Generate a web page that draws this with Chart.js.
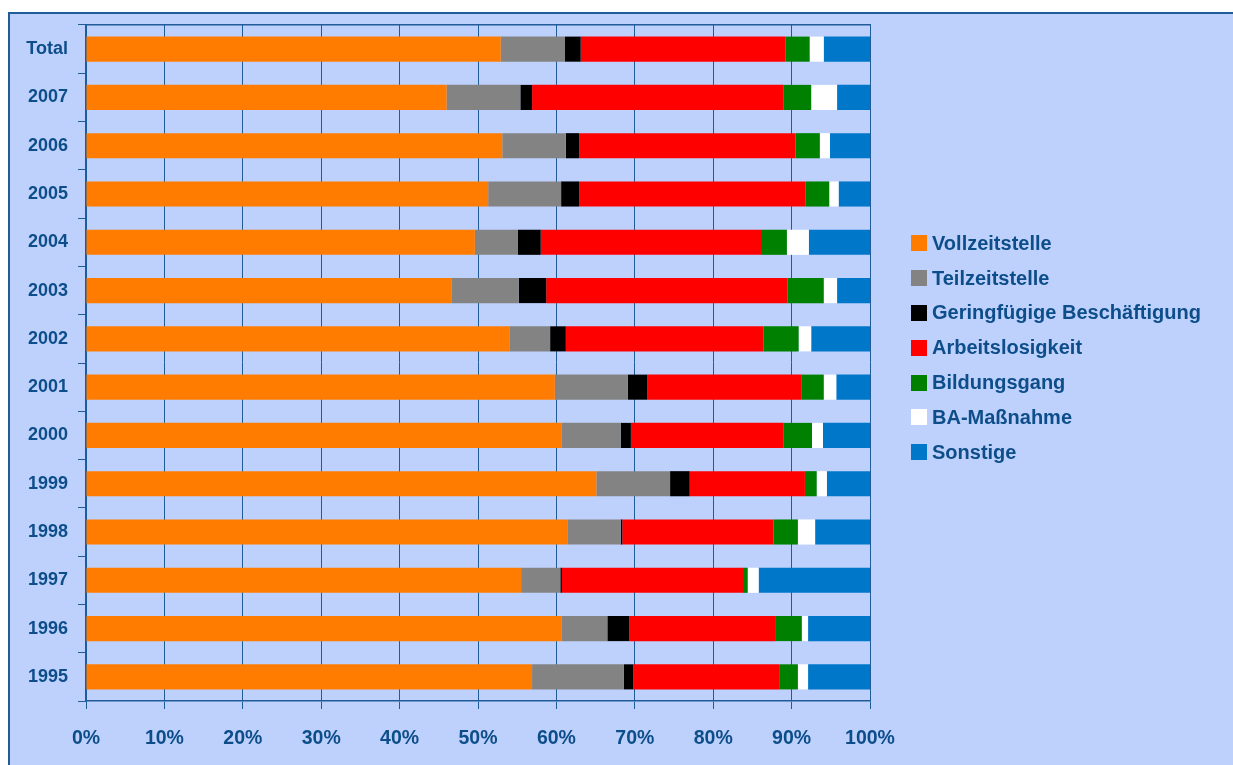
<!DOCTYPE html>
<html lang="de">
<head>
<meta charset="utf-8">
<title>Verbleib nach Jahrgang</title>
<script src="https://cdn.jsdelivr.net/npm/chart.js@4/dist/chart.umd.min.js"></script>
<style>
  html, body { margin: 0; padding: 0; background: #ffffff; }
  body { width: 1233px; height: 765px; position: relative; overflow: hidden;
         font-family: "Liberation Sans", Arial, sans-serif; }
  #panel { position: absolute; left: 8px; top: 12px; right: 0; bottom: 0;
           background: #bed1fc; border-top: 2px solid #1f5c99; border-left: 2px solid #1f5c99; }
  #chart { position: absolute; left: 0; top: 0; }
  #legend { position: absolute; left: 911px; top: 226px; }
  .item { height: 34.8px; display: flex; align-items: center; font-weight: bold;
          font-size: 20px; color: #0d4e8a; white-space: nowrap; }
  .item i { display: inline-block; width: 16px; height: 16px; margin-right: 5px; }
</style>
</head>
<body>
<div id="panel"></div>
<canvas id="chart" width="1233" height="765"></canvas>
<div id="legend"></div>
<script>
// categories, top to bottom
var years = ['Total', '2007', '2006', '2005', '2004', '2003', '2002', '2001', '2000', '1999', '1998', '1997', '1996', '1995'];

// shares in percent per category
var vollzeit     = [52.9, 46.0, 53.1, 51.3, 49.6, 46.6, 54.0, 59.8, 60.7, 65.1, 61.4, 55.5, 60.7, 56.9];
var teilzeit     = [ 8.2,  9.4,  8.1,  9.3,  5.5,  8.6,  5.2,  9.3,  7.5,  9.4,  6.8,  5.0,  5.8, 11.7];
var geringfuegig = [ 2.0,  1.5,  1.7,  2.3,  2.9,  3.5,  2.0,  2.5,  1.3,  2.5,  0.2,  0.2,  2.8,  1.2];
var arbeitslos   = [26.1, 32.1, 27.6, 28.9, 28.1, 30.8, 25.2, 19.7, 19.5, 14.7, 19.3, 23.1, 18.7, 18.7];
var bildung      = [ 3.1,  3.5,  3.1,  3.0,  3.3,  4.6,  4.5,  2.8,  3.6,  1.5,  3.1,  0.6,  3.3,  2.3];
var baMassnahme  = [ 1.8,  3.3,  1.3,  1.2,  2.8,  1.7,  1.6,  1.6,  1.4,  1.3,  2.2,  1.4,  0.8,  1.3];
var sonstige     = [ 5.9,  4.2,  5.1,  4.0,  7.8,  4.2,  7.5,  4.3,  6.0,  5.5,  7.0, 14.2,  7.9,  7.9];

var xTicks = [0, 10, 20, 30, 40, 50, 60, 70, 80, 90, 100];

var seriesNames = ['Vollzeitstelle', 'Teilzeitstelle', 'Geringfügige Beschäftigung', 'Arbeitslosigkeit', 'Bildungsgang', 'BA-Maßnahme', 'Sonstige'];
var seriesData = [vollzeit, teilzeit, geringfuegig, arbeitslos, bildung, baMassnahme, sonstige];
var seriesColors = ['#ff7c00', '#838383', '#000000', '#ff0000', '#008000', '#ffffff', '#0077c8'];

var textColor = '#0d4e8a';
var lineColor = '#1f5c99';

var datasets = seriesNames.map(function (name, i) {
  return {
    label: name,
    data: seriesData[i],
    backgroundColor: seriesColors[i],
    borderWidth: 0,
    categoryPercentage: 1,
    barPercentage: 0.52
  };
});

new Chart(document.getElementById('chart'), {
  type: 'bar',
  data: { labels: years, datasets: datasets },
  options: {
    indexAxis: 'y',
    responsive: false,
    animation: false,
    layout: { padding: { top: 25, right: 363, left: 0, bottom: 0 } },
    plugins: { legend: { display: false }, tooltip: { enabled: false } },
    scales: {
      x: {
        stacked: true,
        min: 0,
        max: 100,
        afterBuildTicks: function (scale) {
          scale.ticks = xTicks.map(function (v) { return { value: v }; });
        },
        afterFit: function (scale) { scale.height = 64; },
        grid: { color: lineColor, lineWidth: 1, tickLength: 8 },
        border: { color: lineColor, width: 1.5 },
        ticks: {
          color: textColor,
          padding: 18,
          font: { family: 'Liberation Sans, Arial, sans-serif', size: 19.5, weight: 'bold' },
          callback: function (v) { return v + '%'; }
        }
      },
      xTop: {
        type: 'linear',
        position: 'top',
        min: 0,
        max: 100,
        afterFit: function (scale) { scale.height = 0; },
        grid: { drawOnChartArea: false, drawTicks: false },
        border: { color: lineColor, width: 1.5 },
        ticks: { display: false }
      },
      y: {
        stacked: true,
        afterFit: function (scale) { scale.width = 86; },
        grid: { drawOnChartArea: false, color: lineColor, tickLength: 8 },
        border: { color: lineColor, width: 1.5 },
        ticks: {
          color: textColor,
          padding: 10,
          font: { family: 'Liberation Sans, Arial, sans-serif', size: 18, weight: 'bold' }
        }
      }
    }
  }
});

// legend on the right
var legend = document.getElementById('legend');
seriesNames.forEach(function (name, i) {
  var row = document.createElement('div');
  row.className = 'item';
  row.innerHTML = '<i style="background:' + seriesColors[i] + '"></i>' + name;
  legend.appendChild(row);
});
</script>
</body>
</html>
